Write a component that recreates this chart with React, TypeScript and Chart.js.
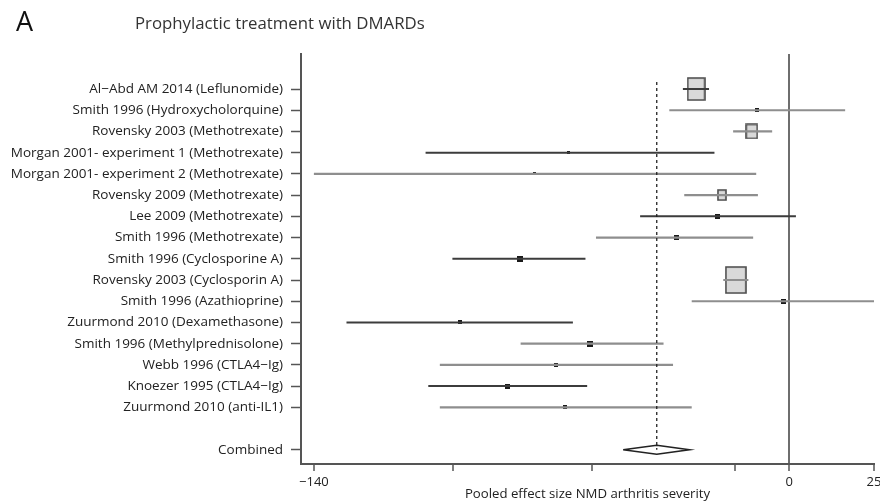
import React, { useEffect, useRef } from "react";
import { Chart, registerables } from "chart.js";

Chart.register(...registerables);

const panelLetter = "A";
const chartTitle = "Prophylactic treatment with DMARDs";
const axisTitle = "Pooled effect size NMD arthritis severity";

const studies = [
  "Al−Abd AM 2014 (Leflunomide)",
  "Smith 1996 (Hydroxycholorquine)",
  "Rovensky 2003 (Methotrexate)",
  "Morgan 2001- experiment 1 (Methotrexate)",
  "Morgan 2001- experiment 2 (Methotrexate)",
  "Rovensky 2009 (Methotrexate)",
  "Lee 2009 (Methotrexate)",
  "Smith 1996 (Methotrexate)",
  "Smith 1996 (Cyclosporine A)",
  "Rovensky 2003 (Cyclosporin A)",
  "Smith 1996 (Azathioprine)",
  "Zuurmond 2010 (Dexamethasone)",
  "Smith 1996 (Methylprednisolone)",
  "Webb 1996 (CTLA4−Ig)",
  "Knoezer 1995 (CTLA4−Ig)",
  "Zuurmond 2010 (anti-IL1)",
];
const effect = [-27.4, -9.6, -11.0, -65.0, -75.0, -19.8, -21.0, -33.3, -79.4, -15.7, -1.7, -97.0, -58.6, -68.8, -83.0, -66.1];
const ciLow = [-31.3, -35.3, -16.5, -107.1, -140.0, -30.9, -43.9, -56.9, -99.2, -19.4, -28.7, -130.4, -79.1, -102.9, -106.3, -102.9];
const ciHigh = [-23.6, 16.5, -5.0, -22.0, -9.7, -9.2, 2.0, -10.6, -60.0, -12.0, 25.0, -63.7, -37.0, -34.2, -59.5, -28.7];
const weights = [17, 4, 11, 3, 3, 8, 5, 5, 6, 20, 5, 4, 6, 4, 5, 4];
const darkRows = [0, 3, 6, 8, 11, 14];

const combinedLabel = "Combined";
const combinedEffect = -39.0;
const combinedLow = -48.9;
const combinedHigh = -29.4;

const xTickValues = [-140, -99, -58, -16, 0, 25];
const xTickLabels = ["−140", "", "", "", "0", "25"];

const FONT = '"Open Sans", "DejaVu Sans", sans-serif';

function makeBox(w: number): HTMLCanvasElement {
  const c = document.createElement("canvas");
  if (w >= 7) {
    const bw = Math.round(w);
    const bh = Math.round(w * 1.3);
    c.width = bw + 2;
    c.height = bh + 2;
    const g = c.getContext("2d")!;
    g.fillStyle = "#d9d9d9";
    g.strokeStyle = "#4a4a4a";
    g.lineWidth = 1.6;
    g.beginPath();
    g.rect(1, 1, bw, bh);
    g.fill();
    g.stroke();
  } else {
    const s = Math.max(3, Math.round(w));
    c.width = s;
    c.height = s;
    const g = c.getContext("2d")!;
    g.fillStyle = "#1a1a1a";
    g.fillRect(0, 0, s, s);
  }
  return c;
}

const headingPlugin = {
  id: "headings",
  afterDraw(chart: any) {
    const ctx = chart.ctx;
    ctx.save();
    ctx.textBaseline = "alphabetic";
    ctx.textAlign = "left";
    ctx.fillStyle = "#111";
    ctx.font = `27px ${FONT}`;
    ctx.fillText(panelLetter, 16, 31);
    ctx.fillStyle = "#333";
    ctx.font = `16.8px ${FONT}`;
    ctx.fillText(chartTitle, 135, 29);
    ctx.restore();
  },
};

export default function App() {
  const ref = useRef<HTMLCanvasElement | null>(null);

  useEffect(() => {
    if (!ref.current) return;
    const n = studies.length;
    const combinedRow = n + 1;

    const linePts = (dark: boolean) => {
      const pts: any[] = [];
      for (let i = 0; i < n; i++) {
        if (darkRows.includes(i) !== dark) continue;
        pts.push({ x: ciLow[i], y: i }, { x: ciHigh[i], y: i }, { x: null, y: null });
      }
      return pts;
    };

    const boxImgs = weights.map((w) => makeBox(w));
    const dh = 0.21;

    const chart = new Chart(ref.current, {
      type: "scatter",
      data: {
        datasets: [
          {
            label: "Combined",
            data: [
              { x: combinedLow, y: combinedRow },
              { x: combinedEffect, y: combinedRow - dh },
              { x: combinedHigh, y: combinedRow },
              { x: combinedEffect, y: combinedRow + dh },
              { x: combinedLow, y: combinedRow },
            ],
            showLine: true,
            borderColor: "#222",
            borderWidth: 1.6,
            backgroundColor: "#ffffff",
            fill: true,
            pointRadius: 0,
            tension: 0,
            order: 0,
          } as any,
          {
            label: "Pooled",
            data: [
              { x: combinedEffect, y: -0.33 },
              { x: combinedEffect, y: combinedRow },
            ],
            showLine: true,
            borderColor: "#222",
            borderWidth: 1.3,
            borderDash: [3, 3],
            pointRadius: 0,
            order: 1,
          } as any,
          {
            label: "CI dark",
            data: linePts(true),
            showLine: true,
            spanGaps: false,
            borderColor: "#3c3c3c",
            borderWidth: 2,
            pointRadius: 0,
            order: 2,
          } as any,
          {
            label: "CI gray",
            data: linePts(false),
            showLine: true,
            spanGaps: false,
            borderColor: "#8e8e8e",
            borderWidth: 2.2,
            pointRadius: 0,
            order: 3,
          } as any,
          {
            label: "Effect",
            data: effect.map((e, i) => ({ x: e, y: i })),
            pointStyle: boxImgs as any,
            pointRadius: 3,
            showLine: false,
            order: 4,
          } as any,
        ],
      },
      options: {
        animation: false,
        responsive: false,
        maintainAspectRatio: false,
        events: [],
        layout: { padding: { top: 54, right: 6, bottom: 0, left: 0 } },
        plugins: {
          legend: { display: false },
          tooltip: { enabled: false },
          title: { display: false },
        },
        scales: {
          x: {
            type: "linear",
            min: -143.8,
            max: 25,
            afterBuildTicks: (scale: any) => {
              scale.ticks = xTickValues.map((v) => ({ value: v }));
            },
            afterFit: (scale: any) => {
              scale.height = 40;
              scale.paddingLeft = 0;
              scale.paddingRight = 0;
            },
            ticks: {
              autoSkip: false,
              maxRotation: 0,
              padding: 3,
              color: "#222",
              font: { family: FONT, size: 13 },
              callback: (v: any) => {
                const k = xTickValues.indexOf(Number(v));
                return k >= 0 ? xTickLabels[k] : "";
              },
            },
            grid: {
              drawOnChartArea: true,
              drawTicks: true,
              tickLength: 7,
              tickColor: "#555",
              tickWidth: 1.5,
              color: (ctx: any) => (ctx.tick && ctx.tick.value === 0 ? "#6e6e6e" : "rgba(0,0,0,0)"),
              lineWidth: 2,
            },
            border: { display: true, color: "#555", width: 2 },
            title: {
              display: true,
              text: axisTitle,
              color: "#222",
              font: { family: FONT, size: 13.2 },
              padding: { top: 0, bottom: 2 },
            },
          },
          y: {
            type: "linear",
            reverse: true,
            min: -1.65,
            max: 17.67,
            afterBuildTicks: (scale: any) => {
              const t = studies.map((_, i) => ({ value: i }));
              t.push({ value: studies.length + 1 });
              scale.ticks = t;
            },
            afterFit: (scale: any) => {
              scale.width = 301;
              scale.paddingTop = 0;
              scale.paddingBottom = 0;
            },
            ticks: {
              autoSkip: false,
              padding: 8,
              color: "#222",
              font: { family: FONT, size: 13.5 },
              callback: (v: any) => {
                const i = Number(v);
                if (i < studies.length) return studies[i];
                if (i === studies.length + 1) return combinedLabel;
                return "";
              },
            },
            grid: {
              drawOnChartArea: false,
              drawTicks: true,
              tickLength: 10,
              tickColor: "#555",
              tickWidth: 1.5,
            },
            border: { display: true, color: "#555", width: 2 },
          },
        },
      },
      plugins: [headingPlugin],
    } as any);

    return () => chart.destroy();
  }, []);

  return (
    <div style={{ position: "fixed", left: 0, top: 0, width: 880, height: 504, background: "#fff" }}>
      <canvas ref={ref} width={880} height={504} style={{ display: "block", width: 880, height: 504 }} />
    </div>
  );
}
